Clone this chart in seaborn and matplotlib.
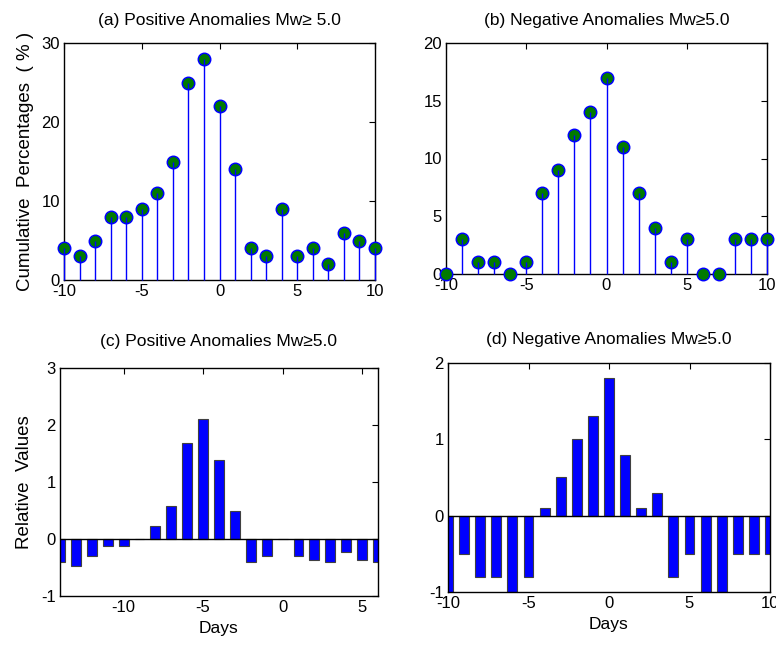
import numpy as np
import pandas as pd
import seaborn as sns
import matplotlib.pyplot as plt

# cumulative percentages, days -10..10
days_ab = list(range(-10, 11))
pos_cum = [4, 3, 5, 8, 8, 9, 11, 15, 25, 28, 22, 14, 4, 3, 9, 3, 4, 2, 6, 5, 4]
neg_cum = [0, 3, 1, 1, 0, 1, 7, 9, 12, 14, 17, 11, 7, 4, 1, 3, 0, 0, 3, 3, 3]

# relative values
days_c = list(range(-14, 7))
pos_rel = [-0.4, -0.47, -0.3, -0.12, -0.12, 0.0, 0.22, 0.58, 1.68, 2.1, 1.38,
           0.5, -0.4, -0.3, 0.0, -0.3, -0.36, -0.4, -0.22, -0.36, -0.4]
days_d = list(range(-10, 11))
neg_rel = [-1.0, -0.5, -0.8, -0.8, -1.0, -0.8, 0.1, 0.5, 1.0, 1.3, 1.8, 0.8,
           0.1, 0.3, -0.8, -0.5, -1.0, -1.0, -0.5, -0.5, -0.5]

sns.set_style("white")
plt.rcParams['font.family'] = ['Liberation Sans', 'DejaVu Sans']
plt.rcParams['axes.unicode_minus'] = False
plt.rcParams['text.color'] = 'black'
plt.rcParams['axes.labelcolor'] = 'black'
plt.rcParams['xtick.color'] = 'black'
plt.rcParams['ytick.color'] = 'black'

fig = plt.figure(figsize=(7.76, 6.51), dpi=100)
W, H = 776, 651


def add_ax(l, t, r, b):
    return fig.add_axes([l / W, 1 - b / H, (r - l) / W, (b - t) / H])


def style(ax):
    for s in ax.spines.values():
        s.set_color('black')
        s.set_linewidth(1.0)
    ax.tick_params(direction='in', top=True, right=True, length=4,
                   labelsize=12, width=0.8, pad=3)


def stem(ax, x, y):
    df = pd.DataFrame({'day': x, 'val': y})
    sns.scatterplot(data=df, x='day', y='val', ax=ax, s=80, color='#007a00',
                    edgecolor='blue', linewidth=1.1, zorder=3, clip_on=False,
                    legend=False)
    ax.vlines(x, 0, y, color='blue', lw=1.0, zorder=4, clip_on=False)
    ax.set_xlabel('')
    ax.set_ylabel('')


def bars(ax, x, y):
    df = pd.DataFrame({'day': x, 'val': y})
    sns.barplot(data=df, x='day', y='val', ax=ax, native_scale=True,
                color='blue', saturation=1, width=0.62, edgecolor='#404040',
                linewidth=0.8, errorbar=None)
    ax.axhline(0, color='black', lw=1.0, zorder=5)
    ax.set_xlabel('Days', fontsize=12.5, labelpad=4)
    ax.set_ylabel('')


ax_a = add_ax(64, 43, 375, 280)
stem(ax_a, days_ab, pos_cum)
ax_a.set_xlim(-10, 10)
ax_a.set_ylim(0, 30)
ax_a.set_xticks([-10, -5, 0, 5, 10])
ax_a.set_yticks([0, 10, 20, 30])
ax_a.set_title('(a) Positive Anomalies Mw\u2265 5.0', fontsize=12.5, pad=13)
ax_a.set_ylabel('Cumulative  Percentages  ( % )', fontsize=13.5, labelpad=5)
style(ax_a)

ax_b = add_ax(446, 43, 767, 274)
stem(ax_b, days_ab, neg_cum)
ax_b.set_xlim(-10, 10)
ax_b.set_ylim(0, 20)
ax_b.set_xticks([-10, -5, 0, 5, 10])
ax_b.set_yticks([0, 5, 10, 15, 20])
ax_b.set_title('(b) Negative Anomalies Mw\u22655.0', fontsize=12.5, pad=13)
style(ax_b)

ax_c = add_ax(60, 368, 378, 596)
bars(ax_c, days_c, pos_rel)
ax_c.set_xlim(-14, 6)
ax_c.set_ylim(-1, 3)
ax_c.set_xticks([-10, -5, 0, 5])
ax_c.set_yticks([-1, 0, 1, 2, 3])
ax_c.set_title('(c) Positive Anomalies Mw\u22655.0', fontsize=12.5, pad=16)
ax_c.set_ylabel('Relative  Values', fontsize=13.5, labelpad=6)
style(ax_c)

ax_d = add_ax(448, 363, 770, 592)
bars(ax_d, days_d, neg_rel)
ax_d.set_xlim(-10, 10)
ax_d.set_ylim(-1, 2)
ax_d.set_xticks([-10, -5, 0, 5, 10])
ax_d.set_yticks([-1, 0, 1, 2])
ax_d.set_title('(d) Negative Anomalies Mw\u22655.0', fontsize=12.5, pad=14)
style(ax_d)

fig.savefig('out.png', dpi=100)
